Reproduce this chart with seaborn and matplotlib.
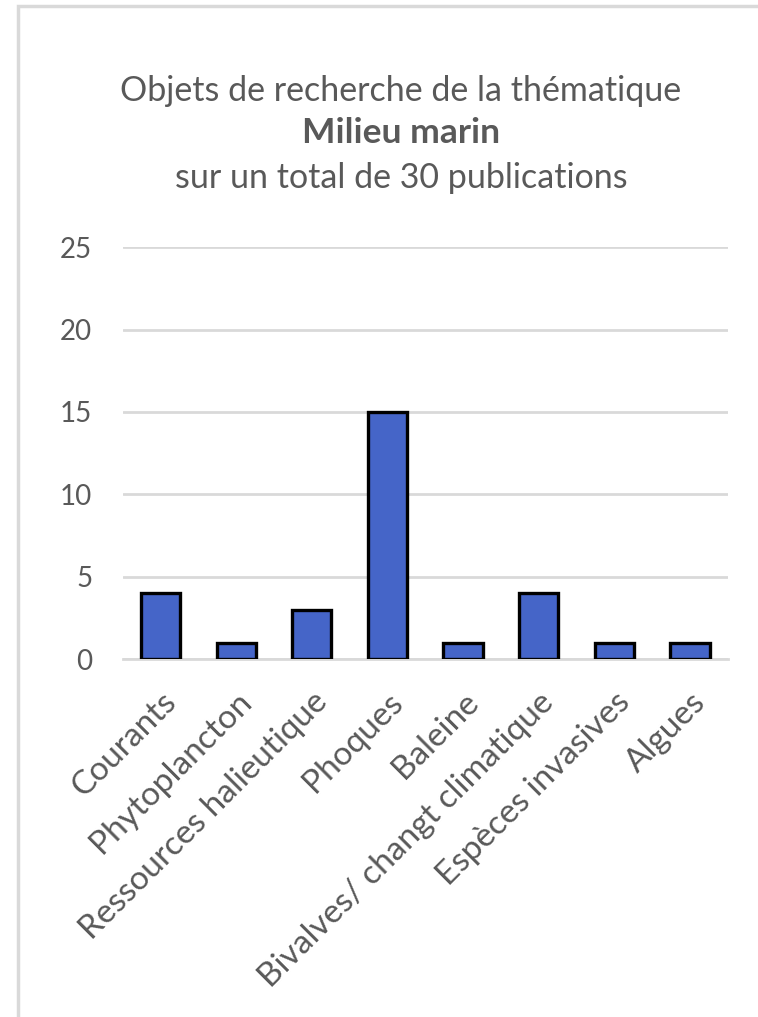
import numpy as np
import pandas as pd
import matplotlib
matplotlib.use("Agg")
import matplotlib.pyplot as plt
import matplotlib.patches as patches
import seaborn as sns

# data
categories = ["Courants", "Phytoplancton", "Ressources halieutique", "Phoques",
              "Baleine", "Bivalves/ changt climatique", "Espèces invasives", "Algues"]
counts = [4, 1, 3, 15, 1, 4, 1, 1]
yticks = [0, 5, 10, 15, 20, 25]

df = pd.DataFrame({"objet": categories, "n": counts})

sns.set_theme(style="white")
plt.rcParams['font.family'] = ['Lato', 'DejaVu Sans']
grey = "#595959"

fig = plt.figure(figsize=(7.58, 10.17), dpi=100)
ax = fig.add_axes([0.162, 0.352, 0.798, 0.405])

sns.barplot(data=df, x="objet", y="n", color="#4565c8", width=0.52,
            edgecolor="black", linewidth=2.4, saturation=1, ax=ax, zorder=3)

ax.set_ylim(0, 25)
ax.set_yticks(yticks)
ax.yaxis.grid(True, color="#d9d9d9", linewidth=2)
ax.set_axisbelow(True)
for s in ["top", "right", "left"]:
    ax.spines[s].set_visible(False)
ax.spines["bottom"].set_color("#d9d9d9")
ax.spines["bottom"].set_linewidth(2)
ax.set_xlabel("")
ax.set_ylabel("")
ax.tick_params(axis="y", labelsize=20, labelcolor=grey, length=0, pad=22)
ax.tick_params(axis="x", labelsize=24, labelcolor=grey, length=0, pad=20)
plt.setp(ax.get_xticklabels(), rotation=45, ha="right", rotation_mode="anchor")

# title, three lines
fig.text(0.529, 0.911, "Objets de recherche de la thématique", ha="center", va="center",
         fontsize=24.5, color=grey)
fig.text(0.529, 0.869, "Milieu marin", ha="center", va="center",
         fontsize=25.5, color=grey, fontweight="bold")
fig.text(0.529, 0.825, "sur un total de 30 publications", ha="center", va="center",
         fontsize=24.5, color=grey)

# chart frame
fig.patches.append(patches.Rectangle((0.024, -0.05), 1.1, 1.044, transform=fig.transFigure,
                                     fill=False, edgecolor="#d9d9d9", linewidth=2.5))

fig.savefig("out.png", dpi=100, facecolor="white")
